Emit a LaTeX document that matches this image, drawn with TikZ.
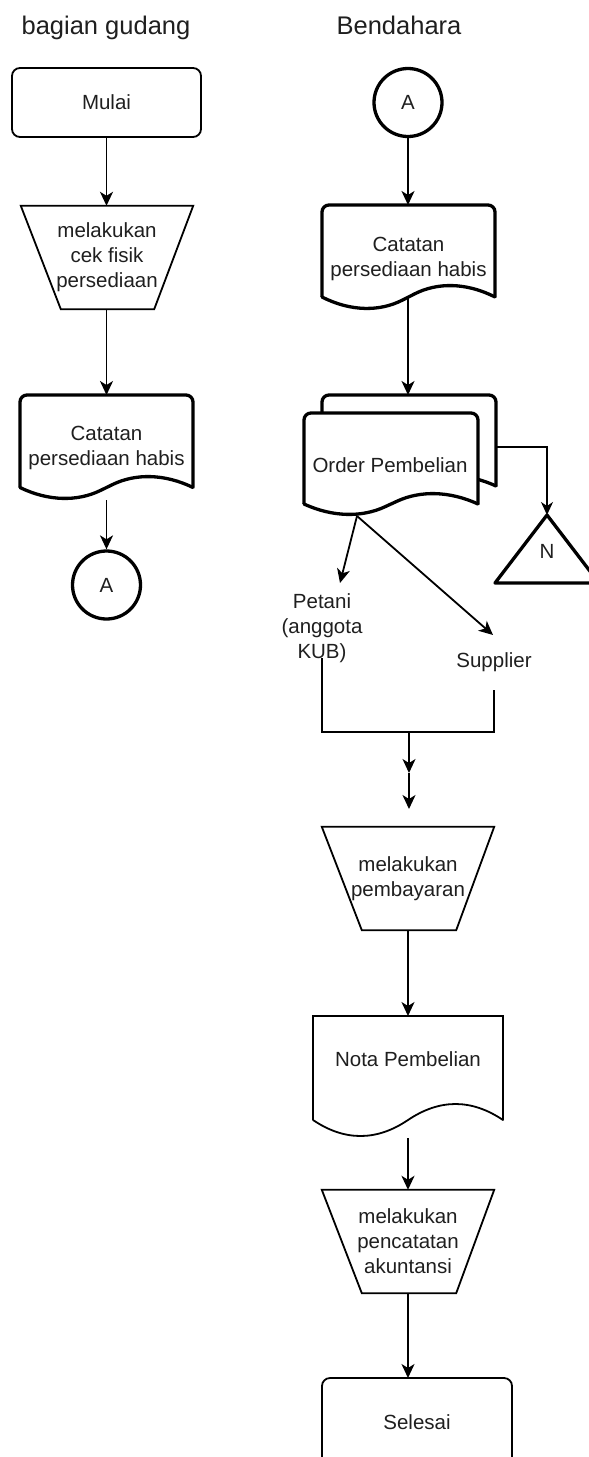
\documentclass[tikz,border=0pt]{standalone}
\usepackage{fontspec}
\setmainfont{Liberation Sans}
\usetikzlibrary{arrows.meta}

% document symbol with wavy bottom edge:
% #1 line style, #2 left x, #3 right x, #4 top y, #5 y at the wave ends, #6 wave amplitude
\newcommand{\docshape}[6]{%
  \pgfmathsetmacro\dcM{(#2+#3)/2}%
  \pgfmathsetmacro\dcS{(#3-#2)/6}%
  \pgfmathsetmacro\dcA{4*#6/3}%
  \fill[white] (#2,#4) -- (#3,#4) -- (#3,#5)
    .. controls ({#3-\dcS},{#5-\dcA}) and ({\dcM+\dcS},{#5-\dcA}) .. (\dcM,#5)
    .. controls ({\dcM-\dcS},{#5+\dcA}) and ({#2+\dcS},{#5+\dcA}) .. (#2,#5) -- cycle;
  \draw[#1] (#2,#5) -- (#2,#4) -- (#3,#4) -- (#3,#5);
  \draw[#1, line cap=round] (#3,#5)
    .. controls ({#3-\dcS},{#5-\dcA}) and ({\dcM+\dcS},{#5-\dcA}) .. (\dcM,#5)
    .. controls ({\dcM-\dcS},{#5+\dcA}) and ({#2+\dcS},{#5+\dcA}) .. (#2,#5);
}

\begin{document}
\begin{tikzpicture}[x=1pt,y=-1pt,
  lbl/.style={font=\fontsize{20.5}{25}\selectfont, align=center, inner sep=0pt, text=black!88},
  ttl/.style={font=\fontsize{25.5}{30}\selectfont, inner sep=0pt, anchor=base, text=black!88},
  thinline/.style={line width=1.8pt},
  thickline/.style={line width=3.3pt},
  flow/.style={line width=1.8pt, -{Stealth[length=14pt,width=13pt,inset=4pt]}},
  thinflow/.style={line width=1.3pt, -{Stealth[length=13pt,width=12pt,inset=4pt]}},
]
\useasboundingbox (0,0) rectangle (589,1457);
\clip (0,0) rectangle (589,1457);

% ---------- column titles ----------
\node[ttl] (ttlgudang) at (106,34) {bagian gudang};
\node[ttl] (ttlbend) at (399,34) {Bendahara};

% ---------- bagian gudang ----------
\node[lbl, draw, thinline, rounded corners=8, minimum width=189, minimum height=69] (mulai) at (106.5,102.5) {Mulai};

\node[lbl, minimum width=172, minimum height=103] (cekfisik) at (107,257.5) {melakukan\\cek fisik\\persediaan};
\draw[thinline] (cekfisik.north west) -- (cekfisik.north east) -- ([xshift=-39pt]cekfisik.south east) -- ([xshift=40pt]cekfisik.south west) -- cycle;

\docshape{thickline, rounded corners=7}{20}{193}{395}{487.5}{10.5}
\node[lbl] (catL) at (106.5,448) {Catatan\\persediaan habis};
\coordinate (catLtop) at (106.5,395);
\coordinate (catLout) at (106.5,500);

\node[lbl, circle, draw, thickline, minimum size=68] (aL) at (106.5,585) {A};

\draw[flow] (mulai.south) -- (mulai.south |- cekfisik.north);
\draw[flow] (mulai.south |- cekfisik.south) -- (catLtop);
\draw[flow] (catLout) -- (aL.north);

% ---------- Bendahara ----------
\node[lbl, circle, draw, thickline, minimum size=68] (aR) at (408,102.5) {A};

\docshape{thickline, rounded corners=7}{322}{495}{205}{297}{11}
\node[lbl] (catR) at (408.5,259) {Catatan\\persediaan habis};
\coordinate (catRtop) at (408,205);
\coordinate (catRout) at (408,297);

% order document, two copies
\docshape{thickline, rounded corners=7}{322}{496}{395}{486}{10}
\docshape{thickline, rounded corners=7}{304}{478}{413}{504}{10}
\node[lbl] (order) at (390,465) {Order Pembelian};
\coordinate (ordertop) at (408,395);
\coordinate (orderside) at (496,447);
\coordinate (orderout) at (357,516);

% off-page file symbol
\draw[thickline, line join=round] (547,515) -- (599,583) -- (495,583) -- cycle;
\coordinate (napex) at (547,515);
\node[lbl] (nfile) at (547,551) {N};

\node[lbl] (petani) at (322,628) {Petani\\(anggota\\KUB)};
\node[lbl] (supplier) at (494,662) {Supplier};
\coordinate (petanitip) at (340,583);
\coordinate (suppliertip) at (493,635);
\coordinate (petanidown) at (322,658);
\coordinate (supplierdown) at (494,690);
\coordinate (joinL) at (322,732);
\coordinate (joinR) at (494,732);
\coordinate (joinM) at (409,732);
\coordinate (midtip) at (409,773);
\coordinate (endtip) at (409,809);

\node[lbl, minimum width=172, minimum height=103] (bayar) at (408,878.5) {melakukan\\pembayaran};
\draw[thinline] (bayar.north west) -- (bayar.north east) -- ([xshift=-38pt]bayar.south east) -- ([xshift=40pt]bayar.south west) -- cycle;

\docshape{thinline}{313}{503}{1016}{1120}{16}
\node[lbl] (nota) at (408,1059) {Nota Pembelian};
\coordinate (notatop) at (408,1016);
\coordinate (notaout) at (408,1138);

\node[lbl, minimum width=172, minimum height=103] (catat) at (408,1241.5) {melakukan\\pencatatan\\akuntansi};
\draw[thinline] (catat.north west) -- (catat.north east) -- ([xshift=-38pt]catat.south east) -- ([xshift=40pt]catat.south west) -- cycle;

\draw[thinline, rounded corners=8] (322,1466) -- (322,1378) -- (512,1378) -- (512,1466) -- cycle;
\node[lbl] (selesai) at (417,1422) {Selesai};
\coordinate (selesaitop) at (408,1378);

% ---------- connectors ----------
\draw[flow] (aR.south) -- (catRtop);
\draw[flow] (catRout) -- (ordertop);
\draw[thinflow] (orderside) -| (napex);
\draw[flow] (orderout) -- (petanitip);
\draw[flow] (orderout) -- (suppliertip);
\draw[thinline] (petanidown) -- (joinL) -- (joinR) -- (supplierdown);
\draw[flow] (joinM) -- (midtip);
\draw[flow] (midtip) -- (endtip);
\draw[flow] (bayar.south) -- (notatop);
\draw[flow] (notaout) -- (catat.north);
\draw[flow] (catat.south) -- (selesaitop);
\end{tikzpicture}
\end{document}
